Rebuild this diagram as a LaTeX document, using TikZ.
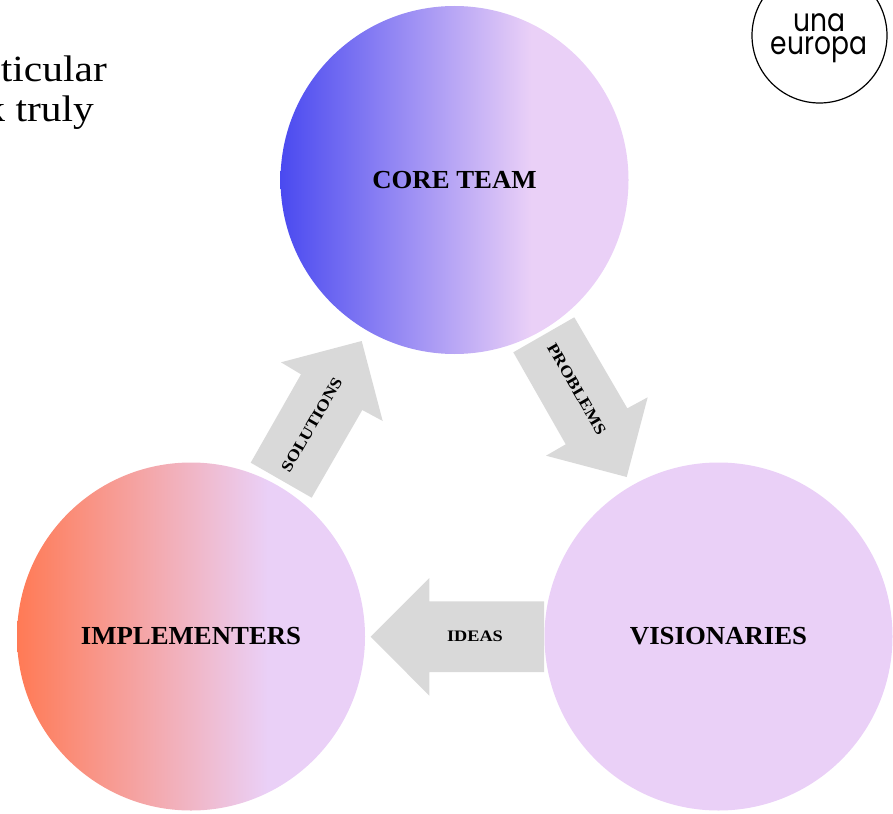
\documentclass[tikz,border=0pt]{standalone}
\usepackage{fontspec}
\setmainfont{Liberation Serif}
\newfontfamily\logofont[FakeStretch=0.83]{Poppins}
\newfontfamily\widefont[FakeStretch=1.12]{Liberation Serif}
\newfontfamily\labelfont[FakeStretch=1.03]{Liberation Serif}
\newfontfamily\smallfont[FakeStretch=1.14]{Liberation Serif}
\usetikzlibrary{shadings}
\definecolor{lilac}{HTML}{EAD0F7}
\definecolor{arrowgrey}{HTML}{D9D9D9}
\definecolor{bluestart}{HTML}{4A4AF0}
\definecolor{orangestart}{HTML}{FF7A55}
\pgfdeclarehorizontalshading{coreshade}{100bp}{color(0bp)=(bluestart); color(25bp)=(bluestart); color(61bp)=(lilac); color(100bp)=(lilac)}
\pgfdeclarehorizontalshading{implshade}{100bp}{color(0bp)=(orangestart); color(25bp)=(orangestart); color(61bp)=(lilac); color(100bp)=(lilac)}
\tikzset{
  bubble/.style={circle,inner sep=0pt,minimum size=348pt,font=\labelfont\fontsize{26}{30}\selectfont\bfseries,text=black},
  flow/.style={fill=arrowgrey,draw=none},
  flowtext/.style={inner sep=0pt,font=\smallfont\fontsize{16}{18}\selectfont\bfseries,text=black},
  bodytext/.style={inner sep=0pt,anchor=base east,font=\widefont\fontsize{37}{40}\selectfont,text=black},
  logotext/.style={inner sep=0pt,anchor=base,font=\logofont\fontsize{32}{34}\selectfont,text=black}
}
\begin{document}
\begin{tikzpicture}[x=1pt,y=-1pt]
\useasboundingbox (0,0) rectangle (893,813);
\node[bubble,shade,shading=coreshade] (core) at (454.5,180) {CORE TEAM};
\node[bubble,shade,shading=implshade] (impl) at (191,636.5) {IMPLEMENTERS};
\node[bubble,fill=lilac] (vis) at (718.5,636.5) {VISIONARIES};
\fill[flow] (361.7,341) -- (281,362.3) -- (301,374.3) -- (250.7,462.7) -- (311.7,497.7) -- (362.3,410) -- (382.7,421) -- cycle;
\fill[flow] (574.3,317.3) -- (513.3,352.3) -- (565.7,444.3) -- (546,455.7) -- (626.7,477) -- (647.7,397.3) -- (627.3,408.3) -- cycle;
\fill[flow] (370.7,636.7) -- (429.3,578) -- (429.3,601.3) -- (544,601.3) -- (544,672) -- (429.3,672) -- (429.3,695.7) -- cycle;
\node[flowtext,rotate=60] (sol) at (311.7,425) {SOLUTIONS};
\node[flowtext,rotate=-60] (prob) at (576.7,389) {PROBLEMS};
\node[flowtext] (ideas) at (475,636) {IDEAS};
\node[bodytext] (line1) at (107,81.5) {ticular};
\node[bodytext] (line2) at (94,121.5) {k truly};
\node[circle,draw=black,line width=1.2pt,inner sep=0pt,minimum size=135pt] (logo) at (819.5,35.5) {};
\node[logotext] (una) at (819,32) {una};
\node[logotext] (europa) at (819,55) {europa};
\end{tikzpicture}
\end{document}
